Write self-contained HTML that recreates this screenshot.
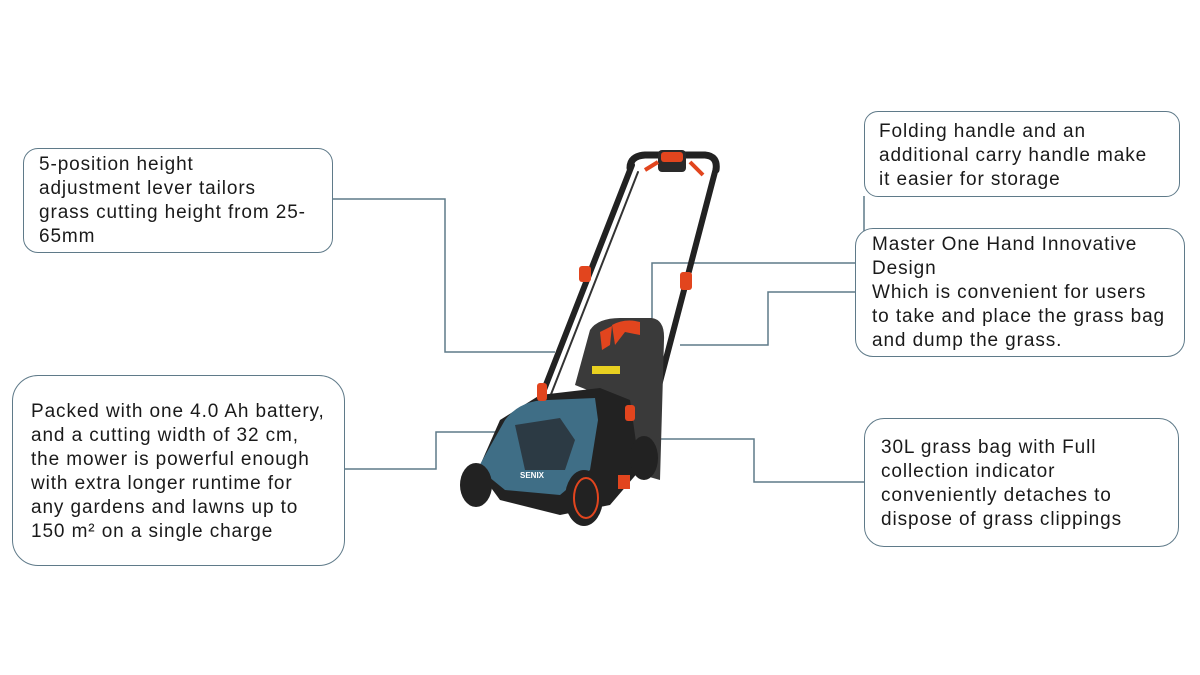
<!DOCTYPE html>
<html><head><meta charset="utf-8"><style>
body{margin:0;width:1200px;height:675px;background:#fff;position:relative;overflow:hidden;font-family:"Liberation Sans",sans-serif;color:#1a1a1a}
.b{position:absolute;border:1.5px solid #5f7a89;box-sizing:border-box;background:#fff;font-size:19px;line-height:24px;letter-spacing:0.9px}
.t{position:absolute;white-space:nowrap}
svg{position:absolute;left:0;top:0}
</style></head><body>
<svg width="1200" height="675" viewBox="0 0 1200 675">
<g fill="none" stroke="#5f7a89" stroke-width="1.5">
<polyline points="332,199 445,199 445,352 555,352"/>
<polyline points="864,196 864,263 652,263 652,318"/>
<polyline points="855,292 768,292 768,345 680,345"/>
<polyline points="344,469 436,469 436,432 512,432"/>
<polyline points="864,482 754,482 754,439 655,439"/>
</g>
<g stroke-linecap="round">
<line x1="540" y1="400" x2="632" y2="165" stroke="#222" stroke-width="6"/>
<line x1="548" y1="402" x2="638" y2="172" stroke="#333" stroke-width="2"/>
<line x1="650" y1="420" x2="716" y2="168" stroke="#222" stroke-width="6"/>
<path d="M630,168 Q630,156 645,155 L705,155 Q718,156 716,170" fill="none" stroke="#222" stroke-width="7"/>
</g>
<rect x="658" y="150" width="28" height="22" rx="4" fill="#2a2a2a"/>
<rect x="661" y="152" width="22" height="10" rx="3" fill="#e2451e"/>
<path d="M645,170 L658,162 M690,162 L703,175" stroke="#e2451e" stroke-width="4"/>
<rect x="579" y="266" width="12" height="16" rx="3" fill="#e2451e"/>
<rect x="680" y="272" width="12" height="18" rx="3" fill="#e2451e"/>
<path d="M590,330 Q598,318 620,318 L652,318 Q665,320 664,340 L660,480 L625,470 L600,395 L575,385 Z" fill="#3a3a3a"/>
<path d="M600,332 L612,326 L610,345 L602,350 Z" fill="#e2451e"/>
<path d="M612,325 Q625,318 640,322 L640,335 L625,332 L615,345 Z" fill="#e2451e"/>
<rect x="592" y="366" width="28" height="8" fill="#e8d020"/>
<path d="M540,395 L600,388 L630,400 L640,470 L610,505 L560,515 L500,500 L478,470 L500,420 Z" fill="#222"/>
<path d="M505,420 Q520,400 548,400 L595,398 L598,420 L590,470 L560,495 L505,490 L478,468 Z" fill="#3f6e86"/>
<path d="M515,425 L560,418 L575,440 L565,470 L525,470 Z" fill="#2c3a44"/>
<rect x="537" y="383" width="10" height="18" rx="3" fill="#e2451e"/>
<rect x="625" y="405" width="10" height="16" rx="3" fill="#e2451e"/>
<ellipse cx="476" cy="485" rx="16" ry="22" fill="#222"/>
<ellipse cx="644" cy="458" rx="14" ry="22" fill="#222"/>
<ellipse cx="584" cy="498" rx="19" ry="28" fill="#222"/>
<ellipse cx="586" cy="498" rx="12" ry="20" fill="none" stroke="#e2451e" stroke-width="2"/>
<rect x="618" y="475" width="12" height="14" fill="#e2451e"/>
<text x="520" y="478" font-size="8" fill="#fff" font-family="Liberation Sans" font-weight="bold">SENIX</text>
</svg>
<div class="b" style="left:23px;top:148px;width:310px;height:105px;border-radius:15px"><div class="t" style="left:15px;top:4px">5-position height<br>adjustment lever tailors<br>grass cutting height from 25-<br>65mm</div></div>
<div class="b" style="left:864px;top:111px;width:316px;height:86px;border-radius:14px"><div class="t" style="left:14px;top:8px">Folding handle and an<br>additional carry handle make<br>it easier for storage</div></div>
<div class="b" style="left:855px;top:228px;width:330px;height:129px;border-radius:18px"><div class="t" style="left:16px;top:4px">Master One Hand Innovative<br>Design<br>Which is convenient for users<br>to take and place the grass bag<br>and dump the grass.</div></div>
<div class="b" style="left:12px;top:375px;width:333px;height:191px;border-radius:26px"><div class="t" style="left:18px;top:24px">Packed with one 4.0 Ah battery,<br>and a cutting width of 32 cm,<br>the mower is powerful enough<br>with extra longer runtime for<br>any gardens and lawns up to<br>150 m² on a single charge</div></div>
<div class="b" style="left:864px;top:418px;width:315px;height:129px;border-radius:20px"><div class="t" style="left:16px;top:17px">30L grass bag with Full<br>collection indicator<br>conveniently detaches to<br>dispose of grass clippings</div></div>
</body></html>
